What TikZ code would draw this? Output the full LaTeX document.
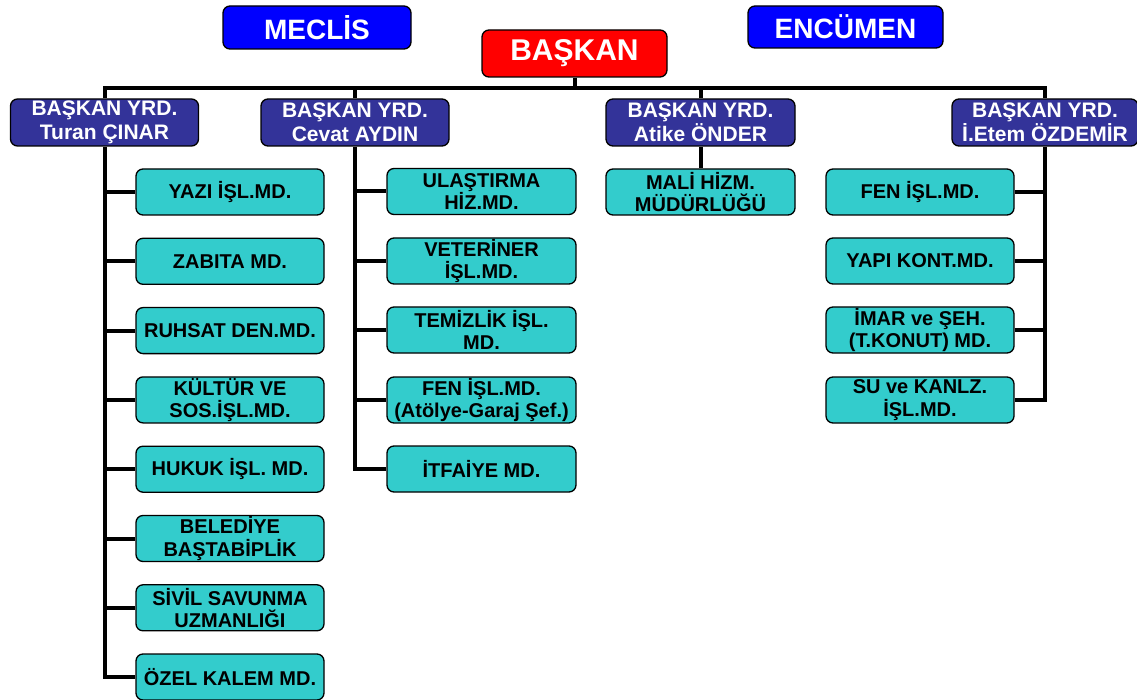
\documentclass[tikz,border=0pt]{standalone}
\usepackage{fontspec}
\setmainfont{Liberation Sans}
\definecolor{topblue}{HTML}{0000FF}
\definecolor{chiefred}{HTML}{FF0000}
\definecolor{yrdnavy}{HTML}{333399}
\definecolor{unitcyan}{HTML}{33CCCC}
\begin{document}
\begin{tikzpicture}[x=1pt,y=-1pt,
  box/.style={draw=black, line width=1.3pt, rounded corners=7pt, inner sep=0pt, align=center, font=\bfseries},
  topbox/.style={box, fill=topblue, text=white, minimum height=43pt, font=\fontsize{28}{30}\selectfont\bfseries},
  chiefbox/.style={box, fill=chiefred, text=white, minimum width=185pt, minimum height=47pt, font=\fontsize{30}{32}\selectfont\bfseries},
  yrdbox/.style={box, fill=yrdnavy, text=white, minimum width=188pt, minimum height=47pt, font=\fontsize{21}{24}\selectfont\bfseries},
  unitbox/.style={box, fill=unitcyan, text=black, minimum width=188pt, minimum height=46pt, font=\fontsize{20}{22.5}\selectfont\bfseries},
  link/.style={draw=black, line width=4pt}
]
\useasboundingbox (0,0) rectangle (1137,700);

% top row
\node[topbox, minimum width=188pt] (meclis) at (317,27.5) {MECLİS};
\node[topbox, minimum width=195pt, minimum height=42pt] (encumen) at (845.5,27) {ENCÜMEN};
\node[chiefbox] (baskan) at (574.5,53.5) {BAŞKAN};

% deputies
\node[yrdbox] (turan) at (104.5,122.5) {BAŞKAN YRD.\\Turan ÇINAR};
\node[yrdbox] (cevat) at (355,122.5) {BAŞKAN YRD.\\Cevat AYDIN};
\node[yrdbox, minimum width=189pt] (atike) at (700.5,122.5) {BAŞKAN YRD.\\Atike ÖNDER};
\node[yrdbox, minimum width=186pt] (etem) at (1045,122.5) {BAŞKAN YRD.\\İ.Etem ÖZDEMİR};

% left column
\node[unitbox] (l1) at (230,192) {YAZI İŞL.MD.};
\node[unitbox] (l2) at (230,261.3) {ZABITA MD.};
\node[unitbox] (l3) at (230,330.6) {RUHSAT DEN.MD.};
\node[unitbox] (l4) at (230,399.9) {KÜLTÜR VE\\SOS.İŞL.MD.};
\node[unitbox] (l5) at (230,469.2) {HUKUK İŞL. MD.};
\node[unitbox] (l6) at (230,538.5) {BELEDİYE\\BAŞTABİPLİK};
\node[unitbox] (l7) at (230,607.8) {SİVİL SAVUNMA\\UZMANLIĞI};
\node[unitbox] (l8) at (230,677) {ÖZEL KALEM MD.};

% middle column
\node[unitbox, minimum width=189pt] (m1) at (481.5,191.5) {ULAŞTIRMA\\HİZ.MD.};
\node[unitbox, minimum width=189pt] (m2) at (481.5,261) {VETERİNER\\İŞL.MD.};
\node[unitbox, minimum width=189pt] (m3) at (481.5,330) {TEMİZLİK İŞL.\\MD.};
\node[unitbox, minimum width=189pt] (m4) at (481.5,400) {FEN İŞL.MD.\\(Atölye-Garaj Şef.)};
\node[unitbox, minimum width=189pt] (m5) at (481.5,469) {İTFAİYE MD.};

% Atike
\node[unitbox, minimum width=189pt] (mali) at (700.5,192) {MALİ HİZM.\\MÜDÜRLÜĞÜ};

% right column
\node[unitbox] (r1) at (920,192) {FEN İŞL.MD.};
\node[unitbox] (r2) at (920,261) {YAPI KONT.MD.};
\node[unitbox] (r3) at (920,330) {İMAR ve ŞEH.\\(T.KONUT) MD.};
\node[unitbox] (r4) at (920,400) {SU ve KANLZ.\\İŞL.MD.};

% connectors
\coordinate (bar) at (575,88);
\draw[link] (turan) |- (bar) -| (etem);
\draw[link] (baskan) -- (baskan |- bar);
\draw[link] (cevat) -- (cevat |- bar);
\draw[link] (atike) -- (atike |- bar);

\draw[link] (turan) |- (l8);
\foreach \n in {l1,l2,l3,l4,l5,l6,l7} \draw[link] (\n) -- (\n -| turan);

\draw[link] (cevat) |- (m5);
\foreach \n in {m1,m2,m3,m4} \draw[link] (\n) -- (\n -| cevat);

\draw[link] (atike) -- (mali);

\draw[link] (etem) |- (r4);
\foreach \n in {r1,r2,r3} \draw[link] (\n) -- (\n -| etem);
\end{tikzpicture}
\end{document}
